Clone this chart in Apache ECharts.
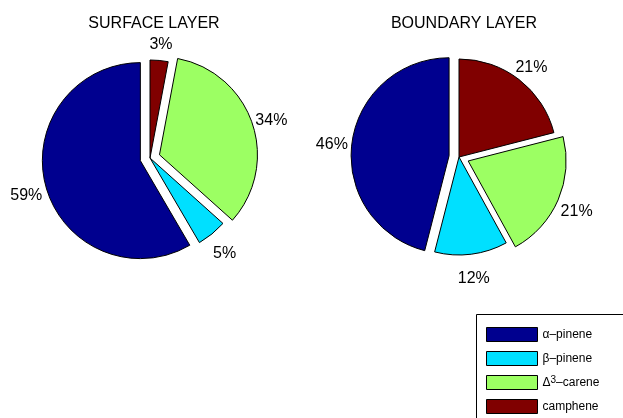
<!DOCTYPE html>
<html>
<head>
<meta charset="utf-8">
<script src="https://cdn.jsdelivr.net/npm/echarts@6/dist/echarts.min.js"></script>
<style>
html,body{margin:0;padding:0;background:#fff;overflow:hidden;}
#c{width:623px;height:418px;}
</style>
</head>
<body>
<div id="c"></div>
<script>
const categories = ['α–pinene', 'β–pinene', 'Δ³–carene', 'camphene'];
const surfaceValues = [59, 5, 34, 3];
const boundaryValues = [46, 12, 21, 21];
const titles = ['SURFACE LAYER', 'BOUNDARY LAYER'];

const colors = ['#00008F', '#00E0FF', '#9CFF63', '#800000'];
const FONT = '"Liberation Sans", Arial, Helvetica, sans-serif';
const R = 98;
const OFFSET = 10;
const centers = [[150, 158], [459, 157]];
const LABEL_DROP = 4;

function buildData(values, withColor) {
  return values.map((v, i) => ({
    name: categories[i],
    value: v,
    selected: i === 0 || i === 2,
    itemStyle: withColor ? { color: colors[i] } : { color: 'rgba(0,0,0,0)', borderWidth: 0 }
  }));
}

function pieSeries(values, center) {
  return {
    type: 'pie',
    center: center,
    radius: R,
    startAngle: 90,
    clockwise: false,
    selectedMode: 'multiple',
    selectedOffset: OFFSET,
    avoidLabelOverlap: false,
    silent: true,
    animation: false,
    label: { show: false },
    labelLine: { show: false },
    itemStyle: { borderColor: '#000', borderWidth: 1 },
    emphasis: { disabled: true },
    data: buildData(values, true)
  };
}

function labelSeries(values, center) {
  return {
    type: 'pie',
    center: [center[0], center[1] + LABEL_DROP],
    radius: [R * 1.075, R * 1.275],
    startAngle: 90,
    clockwise: false,
    selectedMode: 'multiple',
    selectedOffset: OFFSET,
    avoidLabelOverlap: false,
    silent: true,
    animation: false,
    label: {
      show: true,
      position: 'inside',
      formatter: '{c}%',
      color: '#000',
      fontSize: 16,
      fontFamily: FONT
    },
    labelLine: { show: false },
    itemStyle: { color: 'rgba(0,0,0,0)', borderWidth: 0 },
    emphasis: { disabled: true },
    data: buildData(values, false)
  };
}

function legendFormatter(name) {
  if (name.indexOf('³') >= 0) {
    const parts = name.split('³');
    return '{n|' + parts[0] + '}{s|3}{n|' + parts[1] + '}';
  }
  return '{n|' + name + '}';
}

const chart = echarts.init(document.getElementById('c'), null, { renderer: 'canvas', width: 623, height: 418 });
chart.setOption({
  backgroundColor: '#fff',
  color: colors,
  title: [
    { text: titles[0], left: 149, top: 11, textAlign: 'center',
      textStyle: { fontSize: 16, fontWeight: 'normal', color: '#000', fontFamily: FONT } },
    { text: titles[1], left: 459, top: 11, textAlign: 'center',
      textStyle: { fontSize: 16, fontWeight: 'normal', color: '#000', fontFamily: FONT } }
  ],
  graphic: [{
    type: 'rect',
    silent: true,
    z: 0,
    shape: { x: 476.5, y: 314.5, width: 300, height: 150 },
    style: { fill: '#fff', stroke: '#000', lineWidth: 1 }
  }],
  legend: {
    orient: 'vertical',
    left: 476,
    top: 314,
    height: 140,
    data: categories,
    icon: 'rect',
    itemWidth: 51,
    itemHeight: 14,
    itemGap: 9,
    padding: [13, 10, 10, 10],
    borderWidth: 0,
    z: 5,
    selectedMode: false,
    itemStyle: { borderColor: '#000', borderWidth: 1 },
    formatter: legendFormatter,
    textStyle: {
      fontSize: 12, color: '#000', fontFamily: FONT,
      rich: {
        n: { fontSize: 12, color: '#000', fontFamily: FONT, lineHeight: 14 },
        s: { fontSize: 10, color: '#000', fontFamily: FONT, lineHeight: 6, verticalAlign: 'top' }
      }
    }
  },
  series: [
    pieSeries(surfaceValues, centers[0]),
    pieSeries(boundaryValues, centers[1]),
    labelSeries(surfaceValues, centers[0]),
    labelSeries(boundaryValues, centers[1])
  ]
});
</script>
</body>
</html>
